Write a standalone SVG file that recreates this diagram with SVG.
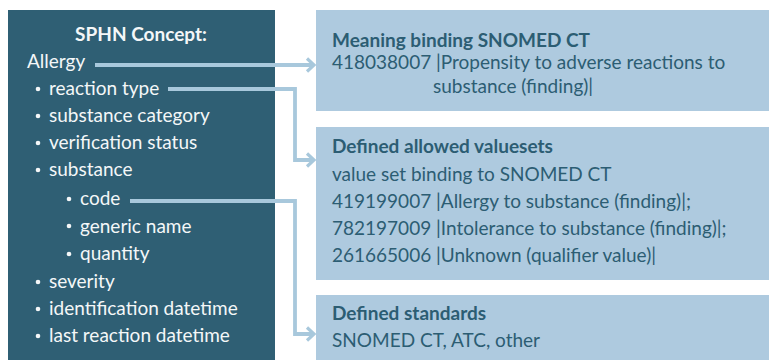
<svg xmlns="http://www.w3.org/2000/svg" width="769" height="360" viewBox="0 0 769 360">
<defs>
<style>
.dark{fill:#2f5f74}
.light{fill:#aecadf}
.wt{font-family:Lato,"Liberation Sans",sans-serif;font-size:19px;fill:#f4f7f8}
.bt{font-family:Lato,"Liberation Sans",sans-serif;font-size:19px;fill:#2c5d73}
.b{font-weight:bold}
.conn{fill:none;stroke:#a8c8dc;stroke-width:3.8;stroke-linejoin:miter}
.bul{fill:#f4f7f8}
</style>
<marker id="chev" markerWidth="12" markerHeight="16" refX="9" refY="8" orient="auto" markerUnits="userSpaceOnUse">
<path d="M2,1.5 L9,8 L2,14.5" fill="none" stroke="#a8c8dc" stroke-width="3.2"/>
</marker>
</defs>
<rect width="769" height="360" fill="#ffffff"/>
<g id="concept">
<rect class="dark" x="8" y="10" width="267" height="350"/>
<text class="wt b" x="141" y="41" text-anchor="middle">SPHN Concept:</text>
<text class="wt" x="27" y="68">Allergy</text>
<g class="bul">
<circle cx="38" cy="89" r="2.3"/><circle cx="38" cy="116" r="2.3"/><circle cx="38" cy="143" r="2.3"/><circle cx="38" cy="170" r="2.3"/>
<circle cx="69" cy="199" r="2.3"/><circle cx="69" cy="226" r="2.3"/><circle cx="69" cy="254" r="2.3"/>
<circle cx="38" cy="282" r="2.3"/><circle cx="38" cy="309" r="2.3"/><circle cx="38" cy="336" r="2.3"/>
</g>
<text class="wt" x="49" y="95">reaction type</text>
<text class="wt" x="49" y="122">substance category</text>
<text class="wt" x="49" y="149">verification status</text>
<text class="wt" x="49" y="176">substance</text>
<text class="wt" x="80" y="205">code</text>
<text class="wt" x="80" y="233">generic name</text>
<text class="wt" x="80" y="260">quantity</text>
<text class="wt" x="49" y="288">severity</text>
<text class="wt" x="49" y="315">identification datetime</text>
<text class="wt" x="49" y="342">last reaction datetime</text>
</g>
<g id="meaning">
<rect class="light" x="316" y="10" width="453" height="101"/>
<text class="bt b" x="332" y="47">Meaning binding SNOMED CT</text>
<text class="bt" x="332" y="69">418038007 |Propensity to adverse reactions to</text>
<text class="bt" x="433" y="93">substance (finding)|</text>
</g>
<g id="valuesets">
<rect class="light" x="316" y="127" width="453" height="153"/>
<text class="bt b" x="332" y="153">Defined allowed valuesets</text>
<text class="bt" x="332" y="181">value set binding to SNOMED CT</text>
<text class="bt" x="332" y="208">419199007 |Allergy to substance (finding)|;</text>
<text class="bt" x="332" y="235">782197009 |Intolerance to substance (finding)|;</text>
<text class="bt" x="332" y="262">261665006 |Unknown (qualifier value)|</text>
</g>
<g id="standards">
<rect class="light" x="316" y="295" width="453" height="65"/>
<text class="bt b" x="332" y="320">Defined standards</text>
<text class="bt" x="332" y="347">SNOMED CT, ATC, other</text>
</g>
<g id="connectors">
<path class="conn" d="M95,65 H314" marker-end="url(#chev)"/>
<path class="conn" d="M168,89 H295 V160 H314" marker-end="url(#chev)"/>
<path class="conn" d="M130,201 H295 V334 H314" marker-end="url(#chev)"/>
</g>
</svg>
